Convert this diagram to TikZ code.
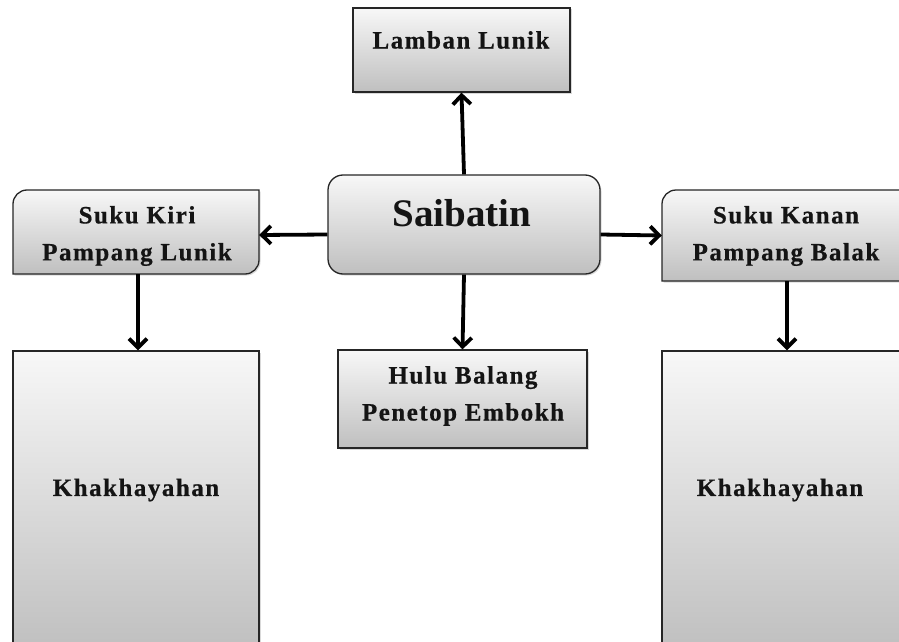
\documentclass[tikz,border=0pt]{standalone}
\usepackage{fontspec}
\setmainfont{Liberation Serif}
\newfontfamily\boxfont[LetterSpace=6,FakeBold=0.6]{Liberation Serif}
\usetikzlibrary{arrows.meta,shadows,calc}
\begin{document}
\begin{tikzpicture}[x=1pt,y=-1pt,
  boxstyle/.style={draw=black!85, line width=1.3pt, top color=black!3, bottom color=black!25,
    drop shadow={shadow xshift=1.5pt,shadow yshift=-1.5pt,opacity=0.3}},
  boxnode/.style={boxstyle, inner sep=0pt},
  ghost/.style={inner sep=0pt},
  txt/.style={font=\boxfont\bfseries\fontsize{25}{37}\selectfont, align=center, text=black!92, inner sep=0pt},
  arr/.style={line width=3.8pt, -{Straight Barb[length=9pt,width=18pt]}}]
\useasboundingbox (0,0) rectangle (899,642);
\begin{scope}
\clip (0,0) rectangle (899,642);
% boxes
\node[boxnode, minimum width=217pt, minimum height=84pt] (lamban) at (461.5,50) {};
\node[boxnode, rounded corners=15pt, minimum width=272pt, minimum height=99pt] (sai) at (464,224.5) {};
\path[boxstyle] (13,204) arc[start angle=180,end angle=90,radius=14pt] -- (259,190) -- (259,260)
   arc[start angle=0,end angle=-90,radius=14pt] -- (13,274) -- cycle;
\node[ghost, minimum width=246pt, minimum height=84pt] (kiri) at (136,232) {};
\path[boxstyle] (662,204) arc[start angle=180,end angle=90,radius=14pt] -- (905,190) -- (905,281)
   -- (662,281) -- cycle;
\node[ghost, minimum width=243pt, minimum height=91pt] (kanan) at (783.5,235.5) {};
\node[boxnode, minimum width=249pt, minimum height=98pt] (hulu) at (462.5,399) {};
\node[boxnode, minimum width=246pt, minimum height=299pt] (khL) at (136,500.5) {};
\node[boxnode, minimum width=243pt, minimum height=299pt] (khR) at (783.5,500.5) {};
% texts
\node[txt] (lambanT) at (461,40) {Lamban Lunik};
\node[inner sep=0pt, font=\bfseries\fontsize{39}{40}\selectfont, text=black!92] (saiT) at (462,213) {Saibatin};
\node[txt] (kiriT) at (137,236) {Suku Kiri\\Pampang Lunik};
\node[txt] (kananT) at (786,236) {Suku Kanan\\Pampang Balak};
\node[txt] (huluT) at (463,396) {Hulu Balang\\Penetop Embokh};
\node[txt] (khLT) at (136,490) {Khakhayahan};
\node[txt] (khRT) at (780,490) {Khakhayahan};
% arrows
\draw[arr] (sai.north) -- (lamban.south);
\draw[arr] ([yshift=-10pt]sai.west) -- ([yshift=-3pt]kiri.east);
\draw[arr] ([yshift=-10pt]sai.east) -- (kanan.west);
\draw[arr] (sai.south) -- (hulu.north);
\draw[arr] ([xshift=2pt]kiri.south) -- ([xshift=2pt]khL.north);
\draw[arr] ([xshift=3.5pt]kanan.south) -- ([xshift=3.5pt]khR.north);
\end{scope}
\end{tikzpicture}
\end{document}
